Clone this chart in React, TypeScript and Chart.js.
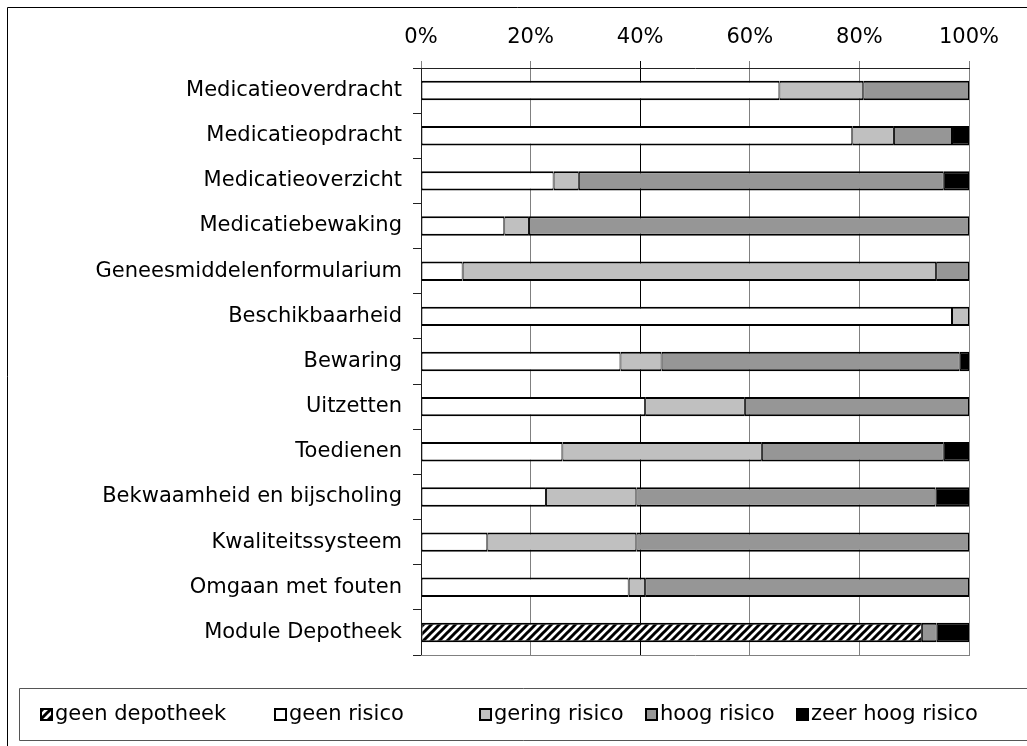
import React, { useEffect, useRef } from "react";
import { Chart, registerables } from "chart.js";

Chart.register(...registerables);

const categories = [
  "Medicatieoverdracht",
  "Medicatieopdracht",
  "Medicatieoverzicht",
  "Medicatiebewaking",
  "Geneesmiddelenformularium",
  "Beschikbaarheid",
  "Bewaring",
  "Uitzetten",
  "Toedienen",
  "Bekwaamheid en bijscholing",
  "Kwaliteitssysteem",
  "Omgaan met fouten",
  "Module Depotheek",
];

const seriesLabels = ["geen depotheek", "geen risico", "gering risico", "hoog risico", "zeer hoog risico"];

const geenDepotheek = [0, 0, 0, 0, 0, 0, 0, 0, 0, 0, 0, 0, 91.4];
const geenRisico = [65.4, 78.7, 24.2, 15.2, 7.6, 96.9, 36.4, 40.9, 25.8, 22.8, 12.1, 37.9, 0];
const geringRisico = [15.3, 7.6, 4.6, 4.5, 86.4, 3.1, 7.5, 18.2, 36.4, 16.5, 27.2, 3.0, 0];
const hoogRisico = [19.3, 10.6, 66.6, 80.3, 6.0, 0, 54.4, 40.9, 33.2, 54.6, 60.7, 59.1, 2.7];
const zeerHoogRisico = [0, 3.1, 4.6, 0, 0, 0, 1.7, 0, 4.6, 6.1, 0, 0, 5.9];

const tickMin = 0;
const tickMax = 100;
const tickStep = 20;

const FONT = '"DejaVu Sans", Verdana, sans-serif';
const FONT_SIZE = 21;

function makeHatch(ctx: CanvasRenderingContext2D): CanvasPattern | string {
  const c = document.createElement("canvas");
  c.width = 8;
  c.height = 8;
  const g = c.getContext("2d");
  if (!g) return "#fff";
  g.fillStyle = "#fff";
  g.fillRect(0, 0, 8, 8);
  g.strokeStyle = "#000";
  g.lineWidth = 3;
  g.beginPath();
  g.moveTo(-2, 10);
  g.lineTo(10, -2);
  g.moveTo(-6, 6);
  g.lineTo(6, -6);
  g.moveTo(2, 14);
  g.lineTo(14, 2);
  g.stroke();
  return ctx.createPattern(c, "repeat") || "#fff";
}

export default function App() {
  const ref = useRef<HTMLCanvasElement | null>(null);

  useEffect(() => {
    const canvas = ref.current;
    if (!canvas) return;
    const ctx = canvas.getContext("2d");
    if (!ctx) return;
    const hatch = makeHatch(ctx);

    const fills: (string | CanvasPattern)[] = [hatch, "#ffffff", "#c0c0c0", "#969696", "#000000"];
    const values = [geenDepotheek, geenRisico, geringRisico, hoogRisico, zeerHoogRisico];

    const legendX = [40, 274, 479, 645, 796];

    const framePlugin = {
      id: "framePlugin",
      afterDraw(chart: any) {
        const c = chart.ctx as CanvasRenderingContext2D;
        const area = chart.chartArea;
        c.save();
        // plot bottom border
        c.strokeStyle = "#808080";
        c.lineWidth = 1;
        c.beginPath();
        c.moveTo(area.left, Math.round(area.bottom) + 0.5);
        c.lineTo(area.right + 1, Math.round(area.bottom) + 0.5);
        c.stroke();
        // outer frame
        c.strokeStyle = "#000";
        c.beginPath();
        c.moveTo(7.5, 746);
        c.lineTo(7.5, 7.5);
        c.lineTo(1027, 7.5);
        c.stroke();
        // legend box
        c.strokeStyle = "#555";
        c.beginPath();
        c.moveTo(1027, 688.5);
        c.lineTo(19.5, 688.5);
        c.lineTo(19.5, 740.5);
        c.lineTo(1027, 740.5);
        c.stroke();
        // legend items
        c.font = `${FONT_SIZE}px ${FONT}`;
        c.textBaseline = "middle";
        c.textAlign = "left";
        for (let i = 0; i < seriesLabels.length; i++) {
          const x = legendX[i];
          const y = 708;
          c.fillStyle = fills[i] as any;
          c.fillRect(x, y, 13, 13);
          c.strokeStyle = "#000";
          c.lineWidth = 2;
          c.strokeRect(x + 1, y + 1, 11, 11);
          c.fillStyle = "#000";
          c.fillText(seriesLabels[i], x + 15, 715);
        }
        c.restore();
      },
    };

    const chart = new Chart(ctx, {
      type: "bar",
      data: {
        labels: categories,
        datasets: seriesLabels.map((label, i) => ({
          label,
          data: values[i],
          backgroundColor: fills[i] as any,
          borderColor: "#000",
          borderWidth: { top: 2, bottom: 2, left: 1, right: 1 },
          borderSkipped: false,
          inflateAmount: 0,
          barPercentage: 0.43,
          categoryPercentage: 1,
        })),
      },
      options: {
        indexAxis: "y",
        responsive: false,
        animation: false,
        events: [],
        layout: { padding: { left: 0, right: 58, top: 0, bottom: 91 } },
        plugins: {
          legend: { display: false },
          tooltip: { enabled: false },
        },
        scales: {
          x: {
            position: "top",
            stacked: true,
            min: tickMin,
            max: tickMax,
            afterFit: (s: any) => {
              s.height = 68;
            },
            ticks: {
              stepSize: tickStep,
              callback: (v: any) => `${v}%`,
              color: "#000",
              font: { family: FONT, size: FONT_SIZE },
              padding: 11,
              maxRotation: 0,
            },
            grid: {
              color: (c: any) => (c.tick && c.tick.value === 40 ? "#000" : "#808080"),
              lineWidth: 1,
              tickLength: 7,
              drawTicks: true,
            },
            border: { color: "#222", width: 1 },
          },
          y: {
            stacked: true,
            afterFit: (s: any) => {
              s.width = 421;
            },
            ticks: {
              color: "#000",
              font: { family: FONT, size: FONT_SIZE },
              padding: 11,
            },
            grid: { drawOnChartArea: false, tickLength: 8, color: "#222", offset: true },
            border: { color: "#222", width: 1 },
          },
        },
      },
      plugins: [framePlugin],
    });

    return () => chart.destroy();
  }, []);

  return (
    <div style={{ position: "absolute", left: 0, top: 0, width: 1027, height: 746, background: "#fff" }}>
      <canvas ref={ref} width={1027} height={746} style={{ display: "block" }} />
    </div>
  );
}
